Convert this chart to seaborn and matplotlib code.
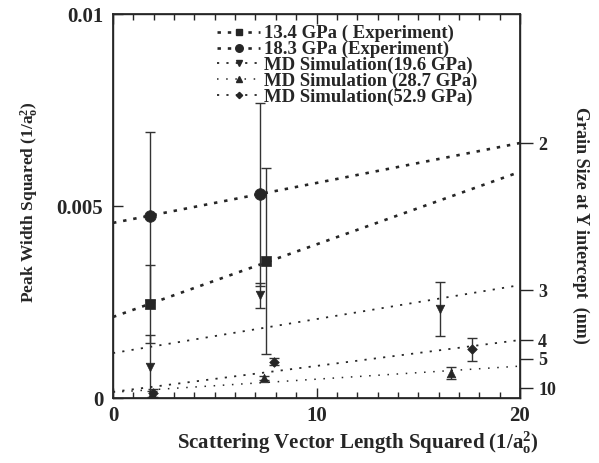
import seaborn as sns
import numpy as np
import matplotlib
matplotlib.use('Agg')
import matplotlib.pyplot as plt
from matplotlib.lines import Line2D

# data
series_names = ['13.4 GPa ( Experiment)', '18.3 GPa (Experiment)', 'MD Simulation(19.6 GPa)',
                'MD Simulation (28.7 GPa)', 'MD Simulation(52.9 GPa)']
x_134 = [1.82, 7.52]
y_134 = [0.00245, 0.00357]
e_134 = [0.00101, 0.00242]
x_183 = [1.82, 7.21]
y_183 = [0.00474, 0.00530]
e_183 = [0.00219, 0.00238]
x_196 = [1.80, 7.20, 16.07]
y_196 = [0.00081, 0.00267, 0.00232]
e_196 = [0.00083, 0.00033, 0.00070]
x_287 = [1.90, 7.40, 16.60]
y_287 = [0.00010, 0.00052, 0.00065]
e_287 = [0.00008, 0.00005, 0.00015]
x_529 = [1.95, 7.93, 17.62]
y_529 = [0.00013, 0.00095, 0.00127]
e_529 = [0.00010, 0.00010, 0.00030]

# linear fits, value at x=0 and x=20
fit_x = [0, 20]
fit_134 = [0.00211, 0.00589]
fit_183 = [0.00456, 0.00664]
fit_196 = [0.00117, 0.00294]
fit_287 = [0.00015, 0.00083]
fit_529 = [0.00016, 0.00151]

# right axis: grain size labels and where they sit on the left scale
grain_labels = ['2', '3', '4', '5', '10']
grain_pos = [0.00664, 0.00281, 0.00151, 0.00102, 0.00026]

sns.set_theme(style="ticks")
plt.rcParams['font.family'] = ['Liberation Serif', 'DejaVu Serif']
plt.rcParams['font.weight'] = 'bold'
plt.rcParams['axes.labelweight'] = 'bold'
plt.rcParams['mathtext.fontset'] = 'custom'
plt.rcParams['mathtext.rm'] = 'Liberation Serif:bold'
plt.rcParams['mathtext.bf'] = 'Liberation Serif:bold'
plt.rcParams['mathtext.it'] = 'Liberation Serif:italic:bold'

ink = '#262626'
fig = plt.figure(figsize=(5.99, 4.63), dpi=100)
ax = fig.add_axes([113/599, 1-398/463, 407/599, 384/463])

exp_dash = (0, (1.3, 2.6))
md_dash = (0, (1.2, 4.0))
fine_dash = (0, (1.0, 5.0))

styles = [
    (x_134, y_134, e_134, fit_134, 's', 52, exp_dash, 1.9),
    (x_183, y_183, e_183, fit_183, 'o', 70, exp_dash, 1.9),
    (x_196, y_196, e_196, fit_196, 'v', 38, md_dash, 1.3),
    (x_287, y_287, e_287, fit_287, '^', 38, fine_dash, 1.1),
    (x_529, y_529, e_529, fit_529, 'D', 24, md_dash, 1.3),
]

handles = []
for (xs, ys, es, fit, mk, sz, ls, lw), name in zip(styles, series_names):
    sns.lineplot(x=fit_x, y=fit, ax=ax, color=ink, linewidth=lw, linestyle=ls)
    ax.errorbar(xs, ys, yerr=es, fmt='none', ecolor='#333333', elinewidth=1.0, capsize=3.5, capthick=1.0)
    sns.scatterplot(x=xs, y=ys, ax=ax, marker=mk, s=sz, color=ink, edgecolor=ink, linewidth=0.5, zorder=5)
    handles.append(Line2D([], [], color=ink, linestyle=ls, linewidth=lw, marker=mk,
                          markersize=np.sqrt(sz) * 0.65, markeredgecolor=ink))

ax.set_xlim(0, 20)
ax.set_ylim(0, 0.01)
ax.set_xticks([0, 10, 20])
ax.set_xticklabels(['0', '10', '20'])
ax.set_xticks(np.arange(0, 21, 1), minor=True)
ax.set_yticks([0, 0.005, 0.01])
ax.set_yticklabels(['0', '0.005', '0.01'])
ax.tick_params(axis='x', which='major', direction='in', top=True, length=7, width=1, labelsize=15, pad=6, colors=ink)
ax.tick_params(axis='x', which='minor', direction='in', top=True, length=4, width=1, colors=ink)
ax.tick_params(axis='y', which='major', direction='in', right=False, length=7, width=1, labelsize=15, pad=7, colors=ink)
for sp in ax.spines.values():
    sp.set_color(ink)
    sp.set_linewidth(1.0)

ax.set_xlabel(r'Scattering Vector Length Squared (1/a$_\mathrm{o}^\mathrm{2}$)', fontsize=15, color=ink)
ax.set_ylabel(r'Peak Width Squared (1/a$_\mathrm{o}^\mathrm{2}$)', fontsize=12.5, color=ink)
ax.xaxis.set_label_coords(0.602, -0.083)
ax.yaxis.set_label_coords(-0.18, 0.51)

ax2 = ax.twinx()
ax2.set_ylim(0, 0.01)
ax2.set_yticks(grain_pos)
ax2.set_yticklabels(grain_labels)
ax2.tick_params(axis='y', direction='out', length=9, width=1, labelsize=13, pad=4, colors=ink)
ax2.set_ylabel('Grain Size at Y intercept  (nm)', fontsize=13, rotation=270, color=ink)
ax2.yaxis.set_label_coords(1.17, 0.45)
for sp in ax2.spines.values():
    sp.set_color(ink)

ax.legend(handles=handles, labels=series_names, loc='upper left', bbox_to_anchor=(217/599, 1-25/463),
          bbox_transform=fig.transFigure, frameon=False, fontsize=13.5, handlelength=2.3,
          handletextpad=0.2, labelspacing=-0.08, borderpad=0, borderaxespad=0)

fig.savefig('out.png', dpi=100)
